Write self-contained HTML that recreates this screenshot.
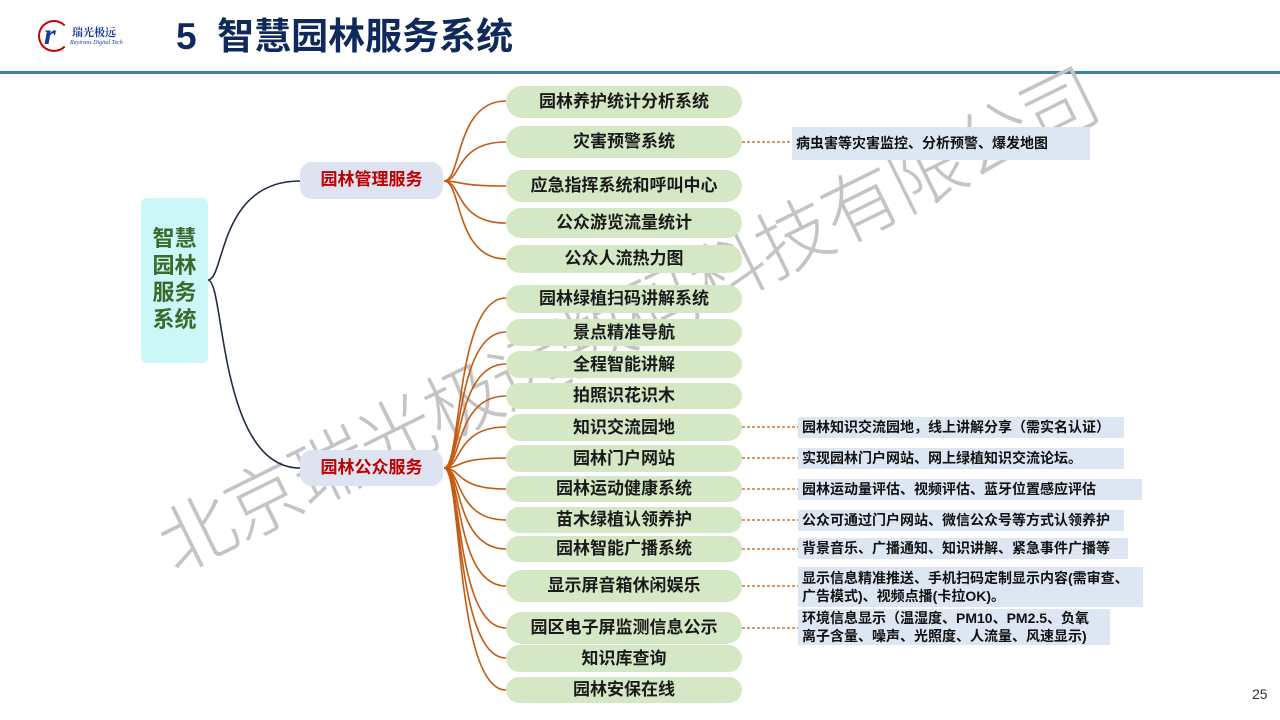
<!DOCTYPE html>
<html><head><meta charset="utf-8">
<style>
*{margin:0;padding:0;box-sizing:border-box}
body{width:1280px;height:720px;position:relative;background:#fff;overflow:hidden;font-family:"Liberation Sans","Noto Sans CJK SC",sans-serif}
.a{position:absolute}
.leaf{position:absolute;left:506px;width:236px;background:#d4e8c6;border-radius:16px;font-weight:bold;font-size:17px;line-height:20px;color:#1a1a1a;display:flex;align-items:center;justify-content:center;white-space:nowrap;padding-bottom:0}
.note{position:absolute;background:#dde7f3;font-weight:bold;font-size:14px;color:#111;padding:0 4px 1px;line-height:18px;display:flex;align-items:center;white-space:nowrap}
.mid{position:absolute;left:300px;width:143px;background:#dde3f0;border-radius:12px;color:#c00000;font-weight:bold;font-size:17px;line-height:20px;display:flex;align-items:center;justify-content:center;padding-bottom:1px}
</style></head><body>
<div class="a" style="left:38px;top:20px;width:32px;height:32px;border:2px solid #c00;border-radius:50%;border-right-color:transparent"></div>
<div class="a" style="left:44px;top:18px;font:italic bold 30px 'Liberation Serif',serif;color:#1a3a9a">r</div>
<div class="a" style="left:72px;top:24px;font-size:11px;font-weight:bold;color:#1a3a9a;font-family:'Noto Serif CJK SC',serif">瑞光极远</div>
<div class="a" style="left:70px;top:40px;font-size:6px;font-style:italic;color:#1a3a9a;font-family:'Liberation Serif',serif">Raytrans Digital Tech</div>
<div class="a" style="left:176px;top:14px;font-size:37px;font-weight:bold;color:#0f2a5a;line-height:46px">5&nbsp; 智慧园林服务系统</div>
<div class="a" style="left:0;top:71px;width:1280px;height:3px;background:#3f84a8"></div>

<div class="a" style="left:625px;top:315px;transform:translate(-50%,-50%) rotate(-26.3deg);font-size:76px;color:#c4c4c4;white-space:nowrap;font-family:'Noto Sans CJK SC',sans-serif;font-weight:300;letter-spacing:-2px">北京瑞光极远数码科技有限公司</div>

<svg class="a" style="left:0;top:0" width="1280" height="720">
<g fill="none" stroke="#1f2d4d" stroke-width="1.6">
<path d="M208 280 C 225 280, 218 181, 300 181"/>
<path d="M208 280 C 225 280, 218 468, 300 468"/>
</g>
<g fill="none" stroke="#c55a11" stroke-width="1.6">
<path d="M444 181 C 462 181,455 101,506 101"/>
<path d="M444 181 C 462 181,455 142,506 142"/>
<path d="M444 181 C 462 181,455 186,506 186"/>
<path d="M444 181 C 462 181,455 223,506 223"/>
<path d="M444 181 C 462 181,455 259,506 259"/>
<path d="M444 468 C 462 468,455 298,506 298"/>
<path d="M444 468 C 462 468,455 332,506 332"/>
<path d="M444 468 C 462 468,455 364,506 364"/>
<path d="M444 468 C 462 468,455 396,506 396"/>
<path d="M444 468 C 462 468,455 427,506 427"/>
<path d="M444 468 C 462 468,455 458,506 458"/>
<path d="M444 468 C 462 468,455 489,506 489"/>
<path d="M444 468 C 462 468,455 520,506 520"/>
<path d="M444 468 C 462 468,455 549,506 549"/>
<path d="M444 468 C 462 468,455 586,506 586"/>
<path d="M444 468 C 462 468,455 628,506 628"/>
<path d="M444 468 C 462 468,455 658,506 658"/>
<path d="M444 468 C 462 468,455 690,506 690"/>
</g>
<g stroke="#c55a11" stroke-width="1.2" stroke-dasharray="3,2">
<line x1="742" y1="142" x2="792" y2="142"/>
<line x1="742" y1="427" x2="798" y2="427"/>
<line x1="742" y1="458" x2="798" y2="458"/>
<line x1="742" y1="489" x2="798" y2="489"/>
<line x1="742" y1="520" x2="798" y2="520"/>
<line x1="742" y1="549" x2="798" y2="549"/>
<line x1="742" y1="586" x2="798" y2="586"/>
<line x1="742" y1="628" x2="798" y2="628"/>
</g>
</svg>

<div class="a" style="left:141px;top:198px;width:67px;height:165px;background:#ccf7f8;border-radius:6px;color:#386a2a;font-weight:bold;font-size:22px;line-height:27px;text-align:center;padding-top:27px">智慧<br>园林<br>服务<br>系统</div>
<div class="mid" style="top:162px;height:37px">园林管理服务</div>
<div class="mid" style="top:450px;height:36px">园林公众服务</div>

<div class="leaf" style="top:86px;height:32px">园林养护统计分析系统</div>
<div class="leaf" style="top:126px;height:32px">灾害预警系统</div>
<div class="leaf" style="top:170px;height:32px">应急指挥系统和呼叫中心</div>
<div class="leaf" style="top:208px;height:30px">公众游览流量统计</div>
<div class="leaf" style="top:245px;height:28px">公众人流热力图</div>
<div class="leaf" style="top:285px;height:28px">园林绿植扫码讲解系统</div>
<div class="leaf" style="top:319px;height:27px">景点精准导航</div>
<div class="leaf" style="top:351px;height:27px">全程智能讲解</div>
<div class="leaf" style="top:383px;height:26px">拍照识花识木</div>
<div class="leaf" style="top:414px;height:27px">知识交流园地</div>
<div class="leaf" style="top:445px;height:27px">园林门户网站</div>
<div class="leaf" style="top:476px;height:26px">园林运动健康系统</div>
<div class="leaf" style="top:507px;height:26px">苗木绿植认领养护</div>
<div class="leaf" style="top:536px;height:26px">园林智能广播系统</div>
<div class="leaf" style="top:570px;height:32px">显示屏音箱休闲娱乐</div>
<div class="leaf" style="top:612px;height:32px">园区电子屏监测信息公示</div>
<div class="leaf" style="top:645px;height:27px">知识库查询</div>
<div class="leaf" style="top:677px;height:26px">园林安保在线</div>

<div class="note" style="left:792px;top:127px;width:298px;height:33px">病虫害等灾害监控、分析预警、爆发地图</div>
<div class="note" style="left:798px;top:417px;width:326px;height:21px">园林知识交流园地，线上讲解分享（需实名认证）</div>
<div class="note" style="left:798px;top:448px;width:326px;height:21px">实现园林门户网站、网上绿植知识交流论坛。</div>
<div class="note" style="left:798px;top:479px;width:344px;height:21px">园林运动量评估、视频评估、蓝牙位置感应评估</div>
<div class="note" style="left:798px;top:510px;width:326px;height:21px">公众可通过门户网站、微信公众号等方式认领养护</div>
<div class="note" style="left:798px;top:538px;width:330px;height:21px">背景音乐、广播通知、知识讲解、紧急事件广播等</div>
<div class="note" style="left:798px;top:567px;width:345px;height:40px">显示信息精准推送、手机扫码定制显示内容(需审查、<br>广告模式)、视频点播(卡拉OK)。</div>
<div class="note" style="left:798px;top:609px;width:312px;height:36px">环境信息显示（温湿度、PM10、PM2.5、负氧<br>离子含量、噪声、光照度、人流量、风速显示)</div>

<div class="a" style="left:1252px;top:686px;font-size:14px;color:#333">25</div>
</body></html>
